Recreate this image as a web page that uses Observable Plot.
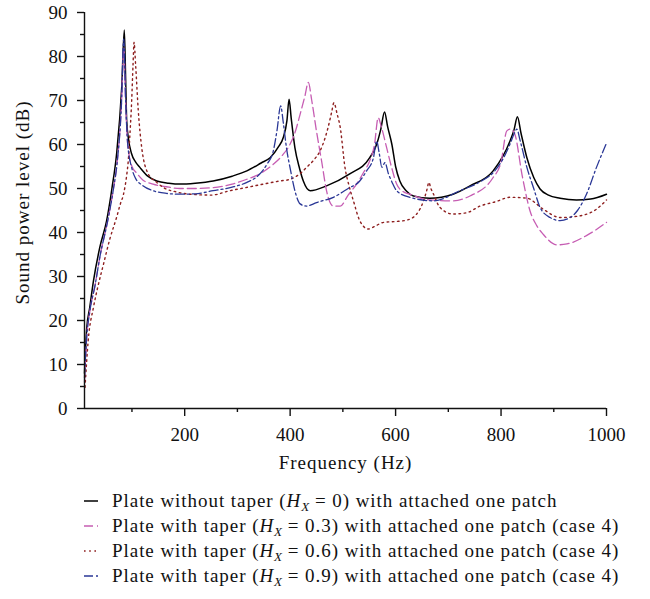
<!DOCTYPE html>
<html>
<head>
<meta charset="utf-8">
<script src="https://cdn.jsdelivr.net/npm/d3@7"></script>
<script src="https://cdn.jsdelivr.net/npm/@observablehq/plot@0.6"></script>
<style>
  body { margin: 0; background: #fff; font-family: "Liberation Serif", "Times New Roman", serif; }
  #chart svg { display: block; }
  #chart svg g[aria-label="text"] text { letter-spacing: 1px; }
  #legend { position: relative; margin-top: 6px; font-size: 19px; color: #111; }
  #legend .row { display: flex; align-items: center; height: 25px; white-space: nowrap; }
  #legend span { letter-spacing: 0.95px; }
  #legend svg { display: block; margin-left: 84px; margin-right: 14px; flex: none; }
  #legend sub { font-size: 13px; vertical-align: -4px; line-height: 0; letter-spacing: 0; }
</style>
</head>
<body>
<div id="chart"></div>
<div id="legend"></div>
<script>
// Sound power level spectra, frequency in Hz and level in dB.

// Plate without taper (H_X = 0)
const freqH0 = [10, 14, 20, 27, 39, 52, 62, 71, 80.6, 85.5, 88, 90, 93, 99, 107, 115, 130, 147, 170, 191, 220, 254, 290, 318, 345, 362, 378, 387, 394, 398, 402, 409, 418, 425, 438, 469, 513, 551, 564, 572, 579, 585, 593, 600, 608, 620, 634, 665, 709, 741, 785, 817, 825, 831, 838, 849, 862, 874, 890, 912, 943, 970, 1000];
const splH0  = [8, 18, 23, 29, 36.6, 42.7, 50, 58, 73, 86, 75, 65.4, 61.6, 58, 56, 54.8, 52.8, 51.7, 51.2, 51, 51.2, 51.7, 52.8, 54, 55.8, 57, 59.5, 61.6, 65.5, 70.3, 66, 59.3, 54.5, 51.7, 49.5, 50.6, 53.3, 57, 60, 63.5, 67.4, 64, 60, 55, 51.7, 49.5, 48.3, 47.8, 48.7, 50.6, 54, 60.8, 63.5, 66.3, 62.5, 57, 52.5, 49.9, 48.5, 47.8, 47.4, 47.6, 48.7];

// Plate with taper (H_X = 0.3)
const freqH3 = [10, 14, 20, 30, 40, 52, 65, 72, 80, 84.5, 88, 92, 100, 109, 120, 140, 165, 191, 220, 254, 290, 318, 345, 368, 385, 400, 410, 419, 428, 434.5, 441, 450, 460, 469, 482, 495, 510, 526, 540, 551, 560, 567, 573, 583, 592, 602, 614, 627, 665, 709, 741, 785, 800, 811, 818, 826, 840, 855, 868, 880, 906, 925, 962, 1000];
const splH3  = [6, 16, 22, 28, 35, 41.5, 50, 56, 69, 82, 70, 60, 55, 53.5, 52, 51, 50.4, 50, 50, 50.2, 51, 52.1, 53.5, 55.5, 57.5, 60.1, 63, 66.9, 71, 74.1, 70, 63, 56, 49.5, 46, 46, 48.5, 51, 53.8, 56.3, 60, 66.1, 64, 59.3, 55, 51, 49.3, 48.7, 47.4, 47.2, 48.3, 52.5, 56, 63.1, 63.5, 62.4, 53, 44.9, 41.5, 39.6, 37.2, 37.4, 39.3, 42.3];

// Plate with taper (H_X = 0.6)
const freqH6 = [11, 17, 27, 35, 46, 58, 71, 78, 84, 90, 93, 96, 99.5, 102, 104, 107, 112, 118.5, 131, 145, 160, 185, 210, 250, 286, 320, 349, 380, 400, 420, 431, 445, 457, 472, 479, 483, 489, 495, 504, 512, 520, 532, 548, 562, 577, 600, 621, 640, 653, 660, 663, 667, 672, 684, 709, 735, 760, 790, 817, 849, 880, 912, 950, 981, 1000];
const splH6  = [4.8, 15.4, 23, 27.5, 32.8, 38.5, 43.5, 46.5, 48.7, 53, 56.3, 62, 70, 78, 83.2, 78, 67.7, 59.3, 53.3, 51.6, 50.2, 49.2, 48.7, 48.5, 49.5, 50.3, 51, 51.7, 52.1, 53.5, 54.8, 56.5, 58.6, 63.9, 67.5, 69.5, 67, 63.9, 54.8, 50.5, 47.2, 42.7, 40.8, 41.5, 42.3, 42.5, 42.8, 44.2, 47.2, 50, 51.4, 50, 48.7, 45.7, 44.2, 44.5, 46, 47, 48, 47.8, 45.3, 43.4, 43.8, 45.3, 47.4];

// Plate with taper (H_X = 0.9)
const freqH9 = [10, 14, 20, 30, 40, 52, 65, 72, 80, 84.5, 88, 92, 100, 106, 120, 140, 165, 191, 220, 254, 290, 318, 340, 356, 368, 375, 382, 387, 393, 401, 409, 419, 431, 450, 482, 510, 532, 545, 558, 564, 569, 574, 580, 586, 593, 602, 627, 672, 722, 760, 785, 805, 817, 825, 830, 836, 849, 862, 874, 893, 912, 931, 945, 962, 981, 1000];
const splH9  = [7, 16, 22, 28, 35, 41.5, 50, 56, 69, 84, 70, 60, 54.5, 52.5, 50.7, 49.5, 48.9, 48.7, 48.8, 49.5, 50.3, 51.4, 53, 55.5, 58.5, 63.1, 68.8, 65, 59.3, 54, 49.5, 46.5, 46, 46.8, 48, 50, 51.7, 54, 57, 60.8, 58, 54.8, 55.9, 53.5, 51.5, 49.5, 48, 47.2, 49.5, 51.5, 53.6, 57, 60.1, 62.5, 63.5, 61, 54.8, 50, 45.7, 43.4, 42.7, 43.4, 45, 48.7, 54.8, 60.3];

// Axis ticks
const xMajorTicks = [200, 400, 600, 800, 1000];
const xMinorTicks = [100, 300, 500, 700, 900];
const yMajorTicks = [0, 10, 20, 30, 40, 50, 60, 70, 80, 90];
const yMinorTicks = [5, 15, 25, 35, 45, 55, 65, 75, 85];

const series = [
  { name: "H0", freq: freqH0, spl: splH0, stroke: "#000000", dash: null, width: 1.5 },
  { name: "H3", freq: freqH3, spl: splH3, stroke: "#c65db3", dash: "9,4", width: 1.3 },
  { name: "H6", freq: freqH6, spl: splH6, stroke: "#8e1f1f", dash: "1.6,3.6", width: 1.4 },
  { name: "H9", freq: freqH9, spl: splH9, stroke: "#2a3796", dash: "9,3,2,3", width: 1.3 }
];

const legendLabels = [
  "Plate without taper (<i>H</i><sub><i>X</i></sub> = 0) with attached one patch",
  "Plate with taper (<i>H</i><sub><i>X</i></sub> = 0.3) with attached one patch (case 4)",
  "Plate with taper (<i>H</i><sub><i>X</i></sub> = 0.6) with attached one patch (case 4)",
  "Plate with taper (<i>H</i><sub><i>X</i></sub> = 0.9) with attached one patch (case 4)"
];

const toRows = s => s.freq.map((f, i) => ({ f, db: s.spl[i] }));

const fontSize = 19;
const chart = Plot.plot({
  width: 650,
  height: 482,
  marginLeft: 84,
  marginRight: 44,
  marginTop: 12,
  marginBottom: 74,
  style: { fontFamily: '"Liberation Serif", "Times New Roman", serif', fontSize: `${fontSize}px`, color: "#111", background: "#fff" },
  x: { domain: [10, 1000], label: null },
  y: { domain: [0, 90], label: null },
  marks: [
    ...series.map(s => Plot.line(toRows(s), {
      x: "f", y: "db", curve: "monotone-x",
      stroke: s.stroke, strokeWidth: s.width, strokeDasharray: s.dash
    })),
    Plot.ruleX([10], { strokeWidth: 1.4 }),
    Plot.ruleY([0], { strokeWidth: 1.4 }),
    Plot.axisX(xMajorTicks, { tickSize: 8, tickPadding: 11, strokeWidth: 1.4, tickFormat: d => `${d}`, fontSize, label: null }),
    Plot.axisX(xMinorTicks, { tickSize: 4, strokeWidth: 1.4, tickFormat: () => "", label: null }),
    Plot.axisY(yMajorTicks, { tickSize: 7, tickPadding: 10, strokeWidth: 1.4, tickFormat: d => `${d}`, fontSize, label: null }),
    Plot.axisY(yMinorTicks, { tickSize: 4, strokeWidth: 1.4, tickFormat: () => "", label: null }),
    Plot.text(["Frequency (Hz)"], { frameAnchor: "bottom", dy: 60, fontSize }),
    Plot.text(["Sound power level (dB)"], { frameAnchor: "left", dx: -62, dy: -8, rotate: -90, textAnchor: "middle", fontSize })
  ]
});
document.getElementById("chart").appendChild(chart);

// Legend below the plot
const legend = d3.select("#legend");
series.forEach((s, i) => {
  const row = legend.append("div").attr("class", "row");
  const svg = row.append("svg").attr("width", 14).attr("height", 10);
  svg.append("line")
    .attr("x1", 0).attr("x2", 14).attr("y1", 5).attr("y2", 5)
    .attr("stroke", s.stroke).attr("stroke-width", s.width)
    .attr("stroke-dasharray", s.dash);
  row.append("span").html(legendLabels[i]);
});
</script>
</body>
</html>
